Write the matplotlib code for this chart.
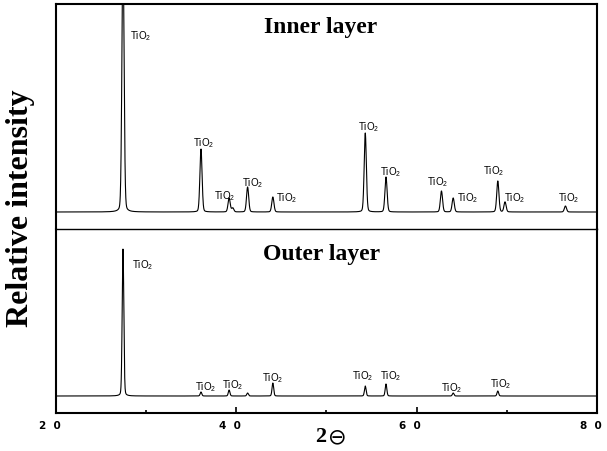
import numpy as np
import matplotlib
matplotlib.use("Agg")
import matplotlib.pyplot as plt
from matplotlib.transforms import ScaledTranslation

plt.rcParams['mathtext.fontset'] = 'custom'
plt.rcParams['mathtext.rm'] = 'Liberation Sans'
plt.rcParams['mathtext.it'] = 'Liberation Sans:italic'

# peak data (2theta, relative height)
inner_pos = [27.43, 36.08, 39.2, 39.6, 41.25, 44.05, 54.3, 56.6, 62.75, 64.05, 69.0, 69.8, 76.5]
inner_int = [260, 63, 14, 4, 25, 15, 79, 35, 21, 14, 31, 10, 6]
outer_pos = [27.43, 36.08, 39.2, 41.25, 44.05, 54.3, 56.6, 64.05, 69.0]
outer_int = [147, 4, 6, 3, 13, 10, 12, 3, 5]

label = "TiO$_2$"
# label anchors (x, y, ha)
inner_labels = [(28.2, 177, 'left'), (36.41, 70, 'center'), (38.74, 17, 'center'),
                (41.85, 30, 'center'), (44.4, 15, 'left'), (54.71, 86, 'center'),
                (57.15, 41, 'center'), (62.36, 31, 'center'), (64.47, 15, 'left'),
                (68.57, 42, 'center'), (69.68, 15, 'left'), (76.9, 15, 'center')]
outer_labels = [(28.43, 132, 'left'), (36.63, 10, 'center'), (39.63, 12, 'center'),
                (44.07, 19, 'center'), (54.05, 21, 'center'), (57.15, 21, 'center'),
                (63.92, 9, 'center'), (69.35, 13, 'center')]

xticks = [20, 40, 60, 80]
xticklabels = ["2  0", "4  0", "6  0", "8  0"]

W, H = 607, 452


def px_axes(l, t, r, b):
    return [l / W, 1 - b / H, (r - l) / W, (b - t) / H]


def pattern(x, pos, inten, sig):
    y = np.zeros_like(x)
    for p, h in zip(pos, inten):
        g = np.exp(-0.5 * ((x - p) / sig) ** 2)
        lor = 1 / (1 + ((x - p) / (sig * 1.2)) ** 2)
        y += h * (0.85 * g + 0.15 * lor)
    return y


x = np.linspace(20, 80, 4000)

fig = plt.figure(figsize=(W / 100, H / 100), dpi=100)
ax_top = fig.add_axes(px_axes(56, 4.5, 597, 230))
ax_bot = fig.add_axes(px_axes(56, 230, 597, 414))

ax_top.plot(x, pattern(x, inner_pos, inner_int, 0.12), color='black', lw=0.8)
ax_bot.plot(x, pattern(x, outer_pos, outer_int, 0.09), color='black', lw=0.8)

ax_top.set_ylim(-17, 208.5)
ax_bot.set_ylim(-17, 167)
for ax in (ax_top, ax_bot):
    ax.set_xlim(20, 80)
    ax.set_yticks([])
    for s in ax.spines.values():
        s.set_linewidth(1.5)

ax_top.spines['bottom'].set_visible(False)
ax_bot.spines['top'].set_linewidth(1.0)
ax_top.set_xticks([])

ax_bot.set_xticks(xticks)
ax_bot.set_xticks([30, 50, 70], minor=True)
ax_bot.tick_params(axis='x', which='major', direction='in', length=4, width=1.2, pad=5)
ax_bot.tick_params(axis='x', which='minor', direction='in', length=2, width=1.2)
ax_bot.set_xticklabels(xticklabels, fontsize=7.5, fontweight='bold', family='DejaVu Sans')
for lab in ax_bot.get_xticklabels():
    lab.set_transform(lab.get_transform() + ScaledTranslation(-0.065, 0, fig.dpi_scale_trans))

for ax, labs in ((ax_top, inner_labels), (ax_bot, outer_labels)):
    for lx, ly, ha in labs:
        ax.text(lx, ly, label, ha=ha, va='center', fontsize=7, family='Liberation Sans')

ax_top.text(49.4, 186, "Inner layer", ha='center', va='center', fontsize=17,
            fontweight='bold', family='Liberation Serif')
ax_bot.text(49.4, 142, "Outer layer", ha='center', va='center', fontsize=17,
            fontweight='bold', family='Liberation Serif')

fig.text(21 / W, 1 - 208 / H, "Relative intensity", rotation=90, ha='center', va='center',
         fontsize=23, fontweight='bold', family='Liberation Serif')
# x label: bold serif "2" followed by the circled-bar theta glyph
fig.text(326 / W, 1 - 437 / H, "2", ha='right', va='center', fontsize=16,
         fontweight='bold', family='Liberation Serif')
fig.text(328 / W, 1 - 437 / H, "\u2296", ha='left', va='center', fontsize=16,
         family='DejaVu Sans')

fig.savefig("out.png", dpi=100)
